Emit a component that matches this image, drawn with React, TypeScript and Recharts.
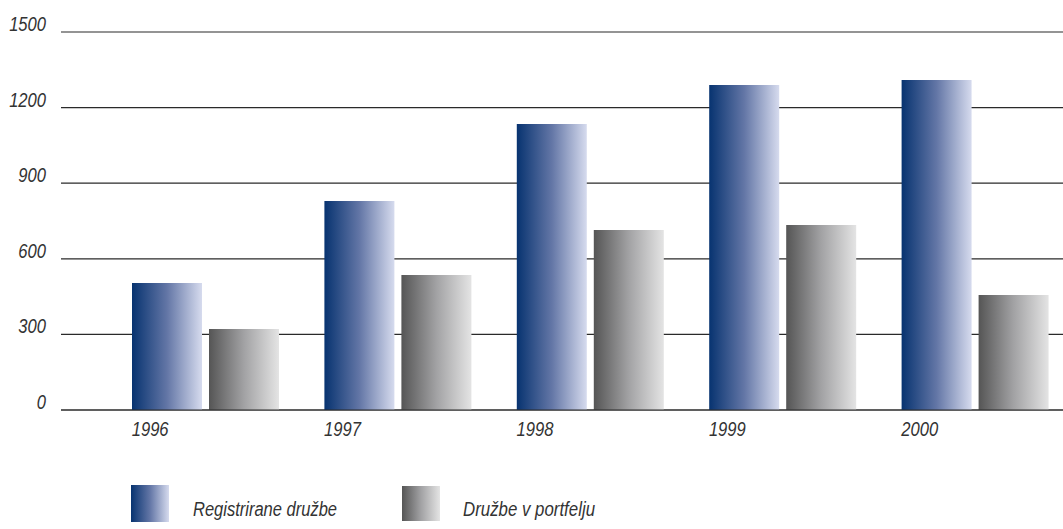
import React from 'react'
import { BarChart, Bar, XAxis, YAxis, CartesianGrid } from 'recharts'

const years = ['1996', '1997', '1998', '1999', '2000']
const registrirane = [504, 829, 1135, 1290, 1310]
const portfelj = [321, 536, 714, 734, 456]
const yTicks = [0, 300, 600, 900, 1200, 1500]
const legendLabels = ['Registrirane družbe', 'Družbe v portfelju']

const data = years.map((year, i) => ({
  year,
  registrirane: registrirane[i],
  portfelj: portfelj[i],
}))

const FONT = "'Liberation Sans', Arial, sans-serif"
const TEXT = '#333'

// condensed look: the original uses a narrow oblique face
const Narrow = ({ x, y, anchor, size, children }: any) => (
  <g transform={`translate(${x},${y}) scale(0.79,1)`}>
    <text x={0} y={0} textAnchor={anchor} fontFamily={FONT} fontStyle="italic" fontSize={size} fill={TEXT}>
      {children}
    </text>
  </g>
)

const YTick = ({ y, payload }: any) => (
  <Narrow x={46} y={y - 1} anchor="end" size={21}>
    {payload.value}
  </Narrow>
)

// labels start under the left edge of the blue bar
const XTick = ({ x, y, payload }: any) => (
  <Narrow x={x - 73.5} y={y + 18} anchor="start" size={21}>
    {payload.value}
  </Narrow>
)

export default function App() {
  return (
    <div
      style={{
        position: 'absolute',
        left: 0,
        top: 0,
        width: 1063,
        height: 529,
        overflow: 'hidden',
        background: '#fff',
      }}
    >
      <BarChart
        width={1071}
        height={529}
        data={data}
        margin={{ top: 32, right: 0, left: 0, bottom: 0 }}
        barSize={70}
        barGap={7}
      >
        <defs>
          <linearGradient id="blueGrad" x1="0" y1="0" x2="1" y2="0">
            <stop offset="0%" stopColor="#073370" />
            <stop offset="50%" stopColor="#6376a6" />
            <stop offset="100%" stopColor="#d6dbee" />
          </linearGradient>
          <linearGradient id="grayGrad" x1="0" y1="0" x2="1" y2="0">
            <stop offset="0%" stopColor="#555555" />
            <stop offset="50%" stopColor="#a2a2a4" />
            <stop offset="100%" stopColor="#e4e4e4" />
          </linearGradient>
        </defs>
        <CartesianGrid vertical={false} stroke="#2a2a2a" strokeWidth={1.2} />
        <XAxis
          dataKey="year"
          height={119}
          padding={{ left: 48, right: 0 }}
          axisLine={{ stroke: '#2a2a2a', strokeWidth: 1.2 }}
          tickLine={false}
          tick={<XTick />}
          interval={0}
        />
        <YAxis
          width={61}
          domain={[0, 1500]}
          ticks={yTicks}
          axisLine={false}
          tickLine={false}
          tick={<YTick />}
        />
        <Bar dataKey="registrirane" fill="url(#blueGrad)" isAnimationActive={false} />
        <Bar dataKey="portfelj" fill="url(#grayGrad)" isAnimationActive={false} />
      </BarChart>
      <svg width={1063} height={60} style={{ position: 'absolute', left: 0, top: 469 }}>
        <defs>
          <linearGradient id="legBlue" x1="0" y1="0" x2="1" y2="0">
            <stop offset="0%" stopColor="#073370" />
            <stop offset="50%" stopColor="#6376a6" />
            <stop offset="100%" stopColor="#d6dbee" />
          </linearGradient>
          <linearGradient id="legGray" x1="0" y1="0" x2="1" y2="0">
            <stop offset="0%" stopColor="#555555" />
            <stop offset="50%" stopColor="#a2a2a4" />
            <stop offset="100%" stopColor="#e4e4e4" />
          </linearGradient>
        </defs>
        <rect x={131} y={16} width={38} height={37} fill="url(#legBlue)" />
        <text
          x={193}
          y={47}
          fontFamily={FONT}
          fontStyle="italic"
          fontSize={19.5}
          fill={TEXT}
          textLength={144}
          lengthAdjust="spacingAndGlyphs"
        >
          {legendLabels[0]}
        </text>
        <rect x={402} y={17} width={38} height={35} fill="url(#legGray)" />
        <text
          x={463}
          y={47}
          fontFamily={FONT}
          fontStyle="italic"
          fontSize={19.5}
          fill={TEXT}
          textLength={132}
          lengthAdjust="spacingAndGlyphs"
        >
          {legendLabels[1]}
        </text>
      </svg>
    </div>
  )
}
